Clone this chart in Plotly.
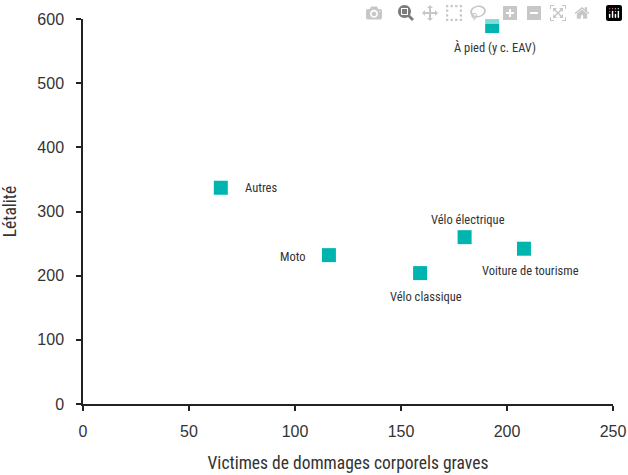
import plotly.graph_objects as go

categories = ["À pied (y c. EAV)", "Autres", "Moto", "Vélo classique", "Vélo électrique", "Voiture de tourisme"]
victimes = [193, 65, 116, 159, 180, 208]
letalite = [589, 337, 232, 204, 260, 242]

# label placement relative to each marker (pixels): (xanchor, xshift, yshift)
label_offsets = [("center", 3, -21), ("left", 22, 0), ("right", -21, -1), ("center", 6, -23), ("center", 3, 18), ("center", 7, -22)]

x_ticks = [0, 50, 100, 150, 200, 250]
y_ticks = [0, 100, 200, 300, 400, 500, 600]

fig = go.Figure()
fig.add_trace(go.Scatter(
    x=victimes, y=letalite, mode="markers",
    marker=dict(symbol="square", size=14, color="#00b5b0"),
    cliponaxis=False, showlegend=False, hovertext=categories,
))

label_font = dict(family="Roboto Condensed, Liberation Sans Narrow, Roboto, sans-serif", size=12.5, color="#333333")
for c, xv, yv, (anchor, dx, dy) in zip(categories, victimes, letalite, label_offsets):
    fig.add_annotation(x=xv, y=yv, text=c, showarrow=False, xanchor=anchor, yanchor="middle",
                       xshift=dx, yshift=dy, font=label_font)

axis_font = dict(family="Liberation Sans, Arial, sans-serif", size=16, color="#333333")
title_font = dict(family="Roboto Condensed, Liberation Sans Narrow, Roboto, sans-serif", size=17.5, color="#333333")
fig.update_layout(
    width=628, height=475,
    margin=dict(l=83, r=15, t=19, b=71),
    plot_bgcolor="white", paper_bgcolor="white",
    xaxis=dict(range=[0, 250], tickvals=x_ticks, showgrid=False, zeroline=False, automargin=False,
               showline=True, linecolor="#222222", linewidth=1.5,
               ticks="outside", ticklen=5, tickcolor="#222222", tickwidth=1.5,
               tickfont=axis_font, ticklabeloverflow="allow", ticklabelstandoff=7,
               title=dict(text="Victimes de dommages corporels graves", font=title_font, standoff=18)),
    yaxis=dict(range=[0, 600], tickvals=y_ticks, showgrid=False, zeroline=False, automargin=False,
               showline=True, linecolor="#222222", linewidth=1.5,
               ticks="outside", ticklen=5, tickcolor="#222222", tickwidth=1.5,
               tickfont=axis_font, ticklabeloverflow="allow", ticklabelstandoff=9,
               title=dict(text="Létalité", font=title_font, standoff=16)),
)

fig.write_html("out.html", post_script="document.body.style.margin='0';document.body.style.overflow='hidden';")
